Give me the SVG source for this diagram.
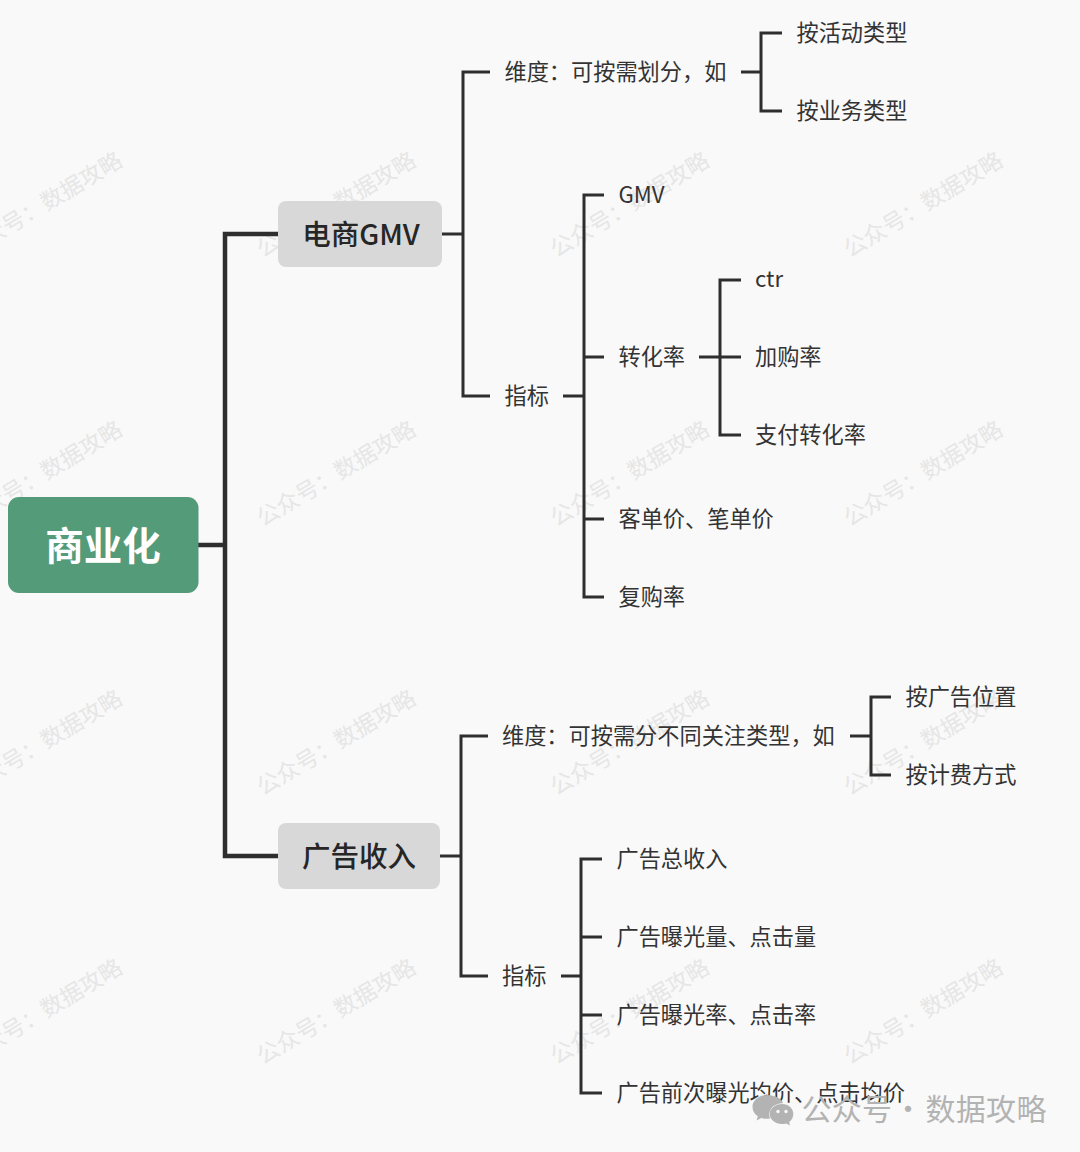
<svg xmlns="http://www.w3.org/2000/svg" width="1080" height="1152" viewBox="0 0 1080 1152">
<style>
text{font-family:"Noto Sans CJK SC","Noto Sans",sans-serif;}
.t{font-size:22.2px;fill:#333;dominant-baseline:auto}
.wm{font-size:22.6px;fill:#e6e6e6;text-anchor:middle}
.c1{fill:none;stroke:#2e2e2e;stroke-width:4.500}
.c2{fill:none;stroke:#2e2e2e;stroke-width:3}
</style>
<rect width="1080" height="1152" fill="#f9f9f9"/>
<g id="watermarks">
<text class="wm" transform="translate(42.500 204.500) rotate(-31)" y="8">公众号：数据攻略</text>
<text class="wm" transform="translate(336 204.500) rotate(-31)" y="8">公众号：数据攻略</text>
<text class="wm" transform="translate(629.500 204.500) rotate(-31)" y="8">公众号：数据攻略</text>
<text class="wm" transform="translate(923 204.500) rotate(-31)" y="8">公众号：数据攻略</text>
<text class="wm" transform="translate(42.500 473.500) rotate(-31)" y="8">公众号：数据攻略</text>
<text class="wm" transform="translate(336 473.500) rotate(-31)" y="8">公众号：数据攻略</text>
<text class="wm" transform="translate(629.500 473.500) rotate(-31)" y="8">公众号：数据攻略</text>
<text class="wm" transform="translate(923 473.500) rotate(-31)" y="8">公众号：数据攻略</text>
<text class="wm" transform="translate(42.500 742.500) rotate(-31)" y="8">公众号：数据攻略</text>
<text class="wm" transform="translate(336 742.500) rotate(-31)" y="8">公众号：数据攻略</text>
<text class="wm" transform="translate(629.500 742.500) rotate(-31)" y="8">公众号：数据攻略</text>
<text class="wm" transform="translate(923 742.500) rotate(-31)" y="8">公众号：数据攻略</text>
<text class="wm" transform="translate(42.500 1011.500) rotate(-31)" y="8">公众号：数据攻略</text>
<text class="wm" transform="translate(336 1011.500) rotate(-31)" y="8">公众号：数据攻略</text>
<text class="wm" transform="translate(629.500 1011.500) rotate(-31)" y="8">公众号：数据攻略</text>
<text class="wm" transform="translate(923 1011.500) rotate(-31)" y="8">公众号：数据攻略</text>
</g>
<g id="connectors">
<path class="c1" d="M198 545H225M278 234H225V856H278"/>
<path class="c2" d="M442 234H463M490 72H463V396H490"/>
<path class="c2" d="M741 72H761M782 33H761V111H782"/>
<path class="c2" d="M563 396H584M604 195H584V597H604M584 357H604M584 519H604"/>
<path class="c2" d="M699 357H720M741 280H720V435H741M720 357H741"/>
<path class="c2" d="M440 856H461M488 736H461V976H488"/>
<path class="c2" d="M850 736H871M891 697H871V775H891"/>
<path class="c2" d="M561 976H581M602 859H581V1093H602M581 937H602M581 1015H602"/>
</g>
<g id="root"><rect x="8" y="497" width="190.500" height="96" rx="11" fill="#549b7a"/><text x="103" y="560" font-size="38.500" font-weight="700" fill="#fff" text-anchor="middle">商业化</text></g>
<g id="gmv"><rect x="278" y="201" width="164" height="66" rx="8" fill="#d8d8d8"/><text x="361" y="244.500" font-size="28.500" font-weight="500" fill="#262626" text-anchor="middle">电商GMV</text></g>
<g id="ads"><rect x="278" y="823" width="162" height="66" rx="8" fill="#d8d8d8"/><text x="359" y="866.500" font-size="28.500" font-weight="500" fill="#262626" text-anchor="middle">广告收入</text></g>
<g id="n1"><text class="t" x="504.500" y="80">维度：可按需划分，如</text></g>
<g id="n2"><text class="t" x="796.500" y="41">按活动类型</text></g>
<g id="n3"><text class="t" x="796.500" y="119">按业务类型</text></g>
<g id="n4"><text class="t" x="504.500" y="404">指标</text></g>
<g id="n5"><text class="t" x="618.500" y="203">GMV</text></g>
<g id="n6"><text class="t" x="618.500" y="365">转化率</text></g>
<g id="n7"><text class="t" x="755" y="287">ctr</text></g>
<g id="n8"><text class="t" x="755" y="365">加购率</text></g>
<g id="n9"><text class="t" x="755" y="442.500">支付转化率</text></g>
<g id="n10"><text class="t" x="618.500" y="527">客单价、笔单价</text></g>
<g id="n11"><text class="t" x="618.500" y="604.500">复购率</text></g>
<g id="n12"><text class="t" x="502" y="744">维度：可按需分不同关注类型，如</text></g>
<g id="n13"><text class="t" x="905.500" y="705">按广告位置</text></g>
<g id="n14"><text class="t" x="905.500" y="782.500">按计费方式</text></g>
<g id="n15"><text class="t" x="502" y="984">指标</text></g>
<g id="n16"><text class="t" x="616.500" y="867">广告总收入</text></g>
<g id="n17"><text class="t" x="616.500" y="944.500">广告曝光量、点击量</text></g>
<g id="n18"><text class="t" x="616.500" y="1022.500">广告曝光率、点击率</text></g>
<g id="n19"><text class="t" x="616.500" y="1100.500">广告前次曝光均价、点击均价</text></g>
<g id="footer">
<path d="M767 1095c-8 0-14.500 5.300-14.500 12 0 3.800 2 7 5.300 9.300l-1.300 4.200 4.800-2.500c1.800.5 3.700.8 5.700.8 1 0 2-.1 3-.2-.5-1.300-.8-2.700-.8-4.100 0-6.300 5.800-11.300 13-11.300h.9c-1.500-4.600-8-8.200-16.100-8.200z" fill="#b3b3b3"/>
<path d="M782 1104c-6.800 0-12.300 4.500-12.300 10s5.500 10 12.300 10c1.500 0 2.900-.2 4.200-.6l3.900 2.100-1-3.500c2.800-1.900 4.200-4.800 4.200-8 0-5.500-4.500-10-11.300-10z" fill="#b3b3b3"/>
<circle cx="778" cy="1111.500" r="1.700" fill="#f9f9f9"/><circle cx="786" cy="1111.500" r="1.700" fill="#f9f9f9"/>
<text y="1119.500" font-size="30" fill="#b3b3b3" letter-spacing="0.300"><tspan x="801.500">公众号</tspan><tspan x="893">·</tspan><tspan x="925.500">数据攻略</tspan></text>
</g>
</svg>
